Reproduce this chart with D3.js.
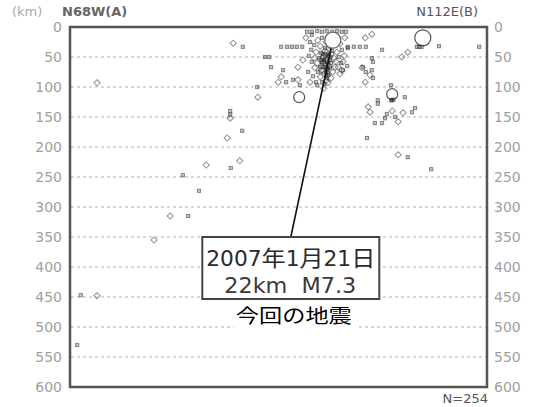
<!DOCTYPE html>
<html>
<head>
<meta charset="utf-8">
<script src="https://cdn.jsdelivr.net/npm/d3@7"></script>
<style>
  html, body { margin: 0; padding: 0; background: #fff; }
  svg { display: block; }
</style>
</head>
<body>
<svg id="chart" width="536" height="407"></svg>
<script>
// Depth ticks (km) shown on both sides of the section
const depthTicks = [0, 50, 100, 150, 200, 250, 300, 350, 400, 450, 500, 550, 600];
const gridDepths = [50, 100, 150, 200, 250, 300, 350, 400, 450, 500, 550];

// Hypocentres projected on the N68W–N112E section: distance along profile (km), depth (km), magnitude
const quakeDist = [
  272, 288, 325, 45, 312, 313, 267, 267, 267, 287, 262, 283, 227, 268, 188, 215, 167, 197, 140, 18, 45, 12,
  495, 547, 563, 602,
  537, 537, 535, 539, 558, 513, 513, 497, 500, 575, 570, 555, 528, 537, 525, 547, 542, 508, 520, 535,
  588, 578, 582, 586, 615, 682, 503, 492, 563, 553, 520, 503, 505, 487, 503, 500, 492, 447, 455, 488, 493, 505,
  355, 352, 360, 372, 380, 380, 382, 410, 335, 332, 400, 453, 347, 383,
  352, 362, 370, 378, 387, 463, 473, 483, 493,
  395, 403, 412, 420, 428, 437, 445, 453, 460,
  413, 420, 427, 407, 417, 425, 433, 442, 450, 402, 410, 418, 428, 437, 445, 453,
  398, 407, 415, 423, 432, 440, 448, 457, 403, 412, 420, 428, 435, 443, 452,
  408, 417, 425, 433, 442, 413, 422, 430, 438, 405, 417, 427, 435, 420, 430, 412, 423,
  393, 400, 458, 463, 388, 462, 450, 397, 432, 443, 403, 455,
  423, 427, 430, 420, 428, 425, 433, 422, 427, 432,
  425, 430, 422, 428, 425, 430, 424, 428, 421, 433, 426, 419, 431, 427, 424, 418, 435
];
const quakeDepth = [
  27, 33, 50, 93, 100, 117, 140, 146, 152, 173, 185, 223, 230, 235, 247, 273, 315, 315, 355, 447, 448, 530,
  185, 213, 217, 237,
  112, 122, 122, 121, 117, 122, 128, 133, 142, 135, 142, 143, 145, 140, 152, 158, 150, 160, 160, 97,
  18, 33, 33, 33, 32, 33, 12, 18, 42, 50, 38, 52, 58, 68, 72, 80, 92, 67, 72, 67, 75, 85,
  72, 83, 92, 88, 88, 67, 117, 92, 67, 50, 92, 72, 92, 97,
  33, 33, 33, 33, 33, 33, 33, 33, 33,
  8, 8, 7, 8, 7, 8, 7, 8, 8,
  22, 18, 25, 30, 32, 35, 32, 30, 28, 38, 42, 43, 42, 40, 42, 38,
  48, 52, 52, 50, 48, 52, 50, 48, 58, 60, 58, 57, 60, 58, 60,
  68, 67, 65, 68, 67, 75, 73, 77, 75, 82, 83, 82, 85, 92, 93, 97, 102,
  18, 25, 18, 35, 55, 65, 78, 75, 15, 18, 13, 58,
  55, 52, 62, 65, 70, 47, 55, 60, 75, 65,
  40, 45, 50, 58, 62, 70, 78, 85, 45, 50, 67, 72, 80, 90, 95, 55, 45
];
const quakeMag = [
  3, 2, 2, 3, 2, 3, 2, 2, 3, 2, 3, 3, 3, 2, 2, 2, 3, 2, 3, 2, 3, 2,
  2, 3, 2, 2,
  5.2, 2, 2, 2, 2, 2, 2, 3, 3, 2, 2, 3, 2, 3, 2, 3, 2, 2, 2, 2,
  5.8, 2, 2, 2, 2, 2, 3, 3, 3, 3, 2, 2, 2, 3, 2, 3, 3, 3, 2, 2, 2, 2,
  2, 3, 2, 2, 3, 3, 5.2, 2, 2, 2, 3, 3, 3, 2,
  2, 2, 2, 2, 2, 2, 2, 2, 2,
  2, 2, 2, 2, 2, 2, 2, 2, 2,
  3, 2, 3, 2, 3, 2, 3, 2, 3, 2, 3, 2, 3, 2, 3, 2,
  2, 3, 2, 3, 2, 3, 2, 3, 2, 3, 2, 3, 2, 3, 2,
  3, 2, 3, 2, 3, 2, 3, 2, 3, 2, 3, 2, 3, 2, 3, 2, 3,
  3, 2, 3, 2, 3, 2, 3, 2, 2, 3, 2, 3,
  2, 3, 2, 3, 2, 3, 2, 3, 2, 3,
  3, 2, 3, 2, 3, 2, 3, 2, 2, 3, 2, 3, 2, 3, 2, 2, 3
];

// Main shock
const mainDist = 438, mainDepth = 22, mainMag = 7.3;
const mainLabel = ["2007年1月21日", "22km\u00a0\u00a0M7.3"];
const mainCaption = "今回の地震";
const labelAnchor = { dist: 368, depth: 350 };
const sideLabels = { left: "N68W(A)", right: "N112E(B)", unit: "(km)", count: "N=254" };

const svg = d3.select("#chart");
const W = 536, H = 407;
const plot = { left: 70, right: 487, top: 27, bottom: 387 };

const x = d3.scaleLinear().domain([0, 695]).range([plot.left, plot.right]);
const y = d3.scaleLinear().domain([0, 600]).range([plot.top, plot.bottom]);

svg.append("rect").attr("width", W).attr("height", H).attr("fill", "#fff");

// dashed depth grid
svg.append("g").selectAll("line").data(gridDepths).join("line")
  .attr("x1", plot.left + 1).attr("x2", plot.right - 1)
  .attr("y1", d => y(d)).attr("y2", d => y(d))
  .attr("stroke", "#b0b0b0").attr("stroke-width", 1)
  .attr("stroke-dasharray", "3,3");

// depth axes on both sides
const tickFont = g => g.selectAll("text")
  .attr("font-family", "DejaVu Sans, sans-serif")
  .attr("font-size", 14).attr("fill", "#a0a0a0");
svg.append("g").attr("transform", `translate(${plot.left},0)`)
  .call(d3.axisLeft(y).tickValues(depthTicks).tickSize(0).tickPadding(8))
  .call(g => g.select(".domain").remove())
  .call(tickFont);
svg.append("g").attr("transform", `translate(${plot.right},0)`)
  .call(d3.axisRight(y).tickValues(depthTicks).tickSize(0).tickPadding(7))
  .call(g => g.select(".domain").remove())
  .call(tickFont);

// hypocentre symbols
const quakes = quakeDist.map((d, i) => ({ dist: d, depth: quakeDepth[i], mag: quakeMag[i] }));
const gq = svg.append("g");
quakes.forEach(q => {
  const cx = x(q.dist), cy = y(q.depth);
  if (q.mag >= 5) {
    const r = q.mag >= 5.5 ? 8 : 5.5;
    gq.append("circle").attr("cx", cx).attr("cy", cy).attr("r", r)
      .attr("fill", "#fff").attr("stroke", "#555").attr("stroke-width", 1.2);
  } else if (q.mag >= 3) {
    gq.append("rect").attr("x", -2.2).attr("y", -2.2).attr("width", 4.4).attr("height", 4.4)
      .attr("transform", `translate(${cx},${cy}) rotate(45)`)
      .attr("fill", "none").attr("stroke", "#222").attr("stroke-opacity", 0.5).attr("stroke-width", 1);
  } else {
    gq.append("rect").attr("x", cx - 1.6).attr("y", cy - 1.6).attr("width", 3.2).attr("height", 3.2)
      .attr("fill", "#222").attr("fill-opacity", 0.25)
      .attr("stroke", "#222").attr("stroke-opacity", 0.5).attr("stroke-width", 1);
  }
});

// leader line from the main shock to its label
const boxW = 177, boxH = 62;
const ax = x(labelAnchor.dist), ay = y(labelAnchor.depth);
svg.append("line")
  .attr("x1", x(mainDist)).attr("y1", y(mainDepth))
  .attr("x2", ax).attr("y2", ay)
  .attr("stroke", "#111").attr("stroke-width", 1.6);

// main shock circle
svg.append("circle").attr("cx", x(mainDist)).attr("cy", y(mainDepth))
  .attr("r", mainMag >= 7 ? 8 : 6)
  .attr("fill", "#fff").attr("stroke", "#666").attr("stroke-width", 1.2);

// plot frame
svg.append("rect")
  .attr("x", plot.left).attr("y", plot.top)
  .attr("width", plot.right - plot.left).attr("height", plot.bottom - plot.top)
  .attr("fill", "none").attr("stroke", "#555").attr("stroke-width", 2.5);

// label box
const bx = ax - boxW / 2;
svg.append("rect").attr("x", bx).attr("y", ay).attr("width", boxW).attr("height", boxH)
  .attr("fill", "#fff").attr("stroke", "#444").attr("stroke-width", 2);
svg.append("text").attr("x", bx + 4).attr("y", ay + 29)
  .attr("textLength", boxW - 8).attr("lengthAdjust", "spacingAndGlyphs")
  .attr("font-family", "DejaVu Sans Condensed, Noto Sans CJK JP, sans-serif").attr("font-size", 22)
  .attr("fill", "#2a2a2a").text(mainLabel[0]);
svg.append("text").attr("x", bx + 22).attr("y", ay + 56)
  .attr("textLength", 132).attr("lengthAdjust", "spacingAndGlyphs")
  .attr("font-family", "DejaVu Sans Condensed, sans-serif").attr("font-size", 22)
  .attr("fill", "#3a3a3a").text(mainLabel[1]);

// caption under the box
const capX = ax + 3;
svg.append("rect").attr("x", capX - 60).attr("y", ay + boxH + 2).attr("width", 122).attr("height", 31)
  .attr("fill", "#fff");
svg.append("text").attr("x", capX).attr("y", ay + boxH + 24)
  .attr("text-anchor", "middle")
  .attr("font-family", "Noto Sans CJK JP, sans-serif").attr("font-size", 19)
  .attr("textLength", 116).attr("lengthAdjust", "spacingAndGlyphs")
  .attr("fill", "#000").text(mainCaption);

// side labels
svg.append("text").attr("x", 12).attr("y", 16)
  .attr("font-family", "DejaVu Sans, sans-serif").attr("font-size", 13)
  .attr("fill", "#aaa").text(sideLabels.unit);
svg.append("text").attr("x", 62).attr("y", 16)
  .attr("font-family", "DejaVu Sans, sans-serif").attr("font-size", 13).attr("font-weight", "bold")
  .attr("fill", "#666").text(sideLabels.left);
svg.append("text").attr("x", 478).attr("y", 16).attr("text-anchor", "end")
  .attr("font-family", "DejaVu Sans, sans-serif").attr("font-size", 13)
  .attr("fill", "#555").text(sideLabels.right);
svg.append("text").attr("x", 488).attr("y", 403).attr("text-anchor", "end")
  .attr("font-family", "DejaVu Sans, sans-serif").attr("font-size", 13)
  .attr("fill", "#555").text(sideLabels.count);
</script>
</body>
</html>
